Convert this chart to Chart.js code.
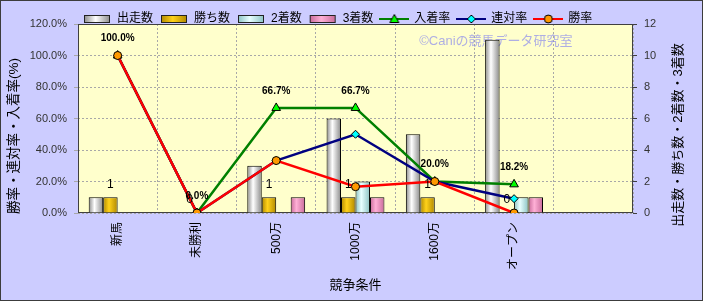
<!DOCTYPE html>
<html><head><meta charset="utf-8">
<script src="https://cdn.jsdelivr.net/npm/chart.js@4/dist/chart.umd.min.js"></script>
<style>html,body{margin:0;padding:0;background:#ccccff;}canvas{display:block;}</style>
</head><body>
<canvas id="c" width="703" height="301"></canvas>
<script>
// ---- data ----
const categories = ['新馬', '未勝利', '500万', '1000万', '1600万', 'オープン', ''];
const starts  = [1, 0, 3, 6, 5, 11, null];   // 出走数
const wins    = [1, 0, 1, 1, 1, 0, null];    // 勝ち数
const seconds = [0, 0, 0, 2, 0, 1, null];    // 2着数
const thirds  = [0, 0, 1, 1, 0, 1, null];    // 3着数
const placeRate    = [100, 0, 66.7, 66.7, 20, 18.2, null]; // 入着率
const quinellaRate = [100, 0, 33.3, 50, 20, 9.1, null];    // 連対率
const winRate      = [100, 0, 33.3, 16.7, 20, 0, null];    // 勝率
const leftTicks  = [0, 20, 40, 60, 80, 100, 120];
const rightTicks = [0, 2, 4, 6, 8, 10, 12];

// ---- styles ----
const FONT = "'Liberation Sans','Noto Sans CJK JP',sans-serif";
const CAT_PCT = 0.73;
const barStyles = [
  {edge: '#8a8a8a', mid: '#ffffff'},
  {edge: '#b08800', mid: '#ffd21a'},
  {edge: '#8ac2c2', mid: '#e8ffff'},
  {edge: '#c86a9a', mid: '#ffb0d6'}
];

function barFill(di) {
  return function (ctx) {
    const st = barStyles[di];
    if (ctx.type !== 'data') return st.mid;
    const chart = ctx.chart, xs = chart.scales.x;
    if (!xs || !xs.width) return st.mid;
    const catW = xs.width / categories.length;
    const groupW = catW * CAT_PCT;
    const barW = groupW / 4;
    const left = xs.getPixelForValue(ctx.dataIndex) - groupW / 2 + di * barW;
    const g = chart.ctx.createLinearGradient(left, 0, left + barW, 0);
    g.addColorStop(0, st.edge);
    g.addColorStop(0.4, st.mid);
    g.addColorStop(1, st.edge);
    return g;
  };
}

function barSwatch(di) {
  const st = barStyles[di];
  const cv = document.createElement('canvas');
  cv.width = 28; cv.height = 10;
  const c = cv.getContext('2d');
  const g = c.createLinearGradient(1, 0, 27, 0);
  g.addColorStop(0, st.edge); g.addColorStop(0.45, st.mid); g.addColorStop(1, st.edge);
  c.fillStyle = g; c.fillRect(1, 1.5, 26, 7);
  c.strokeStyle = '#222'; c.lineWidth = 1; c.strokeRect(1.5, 1.5, 25, 7);
  return cv;
}

function lineSwatch(color, marker, fill) {
  const cv = document.createElement('canvas');
  cv.width = 30; cv.height = 12;
  const c = cv.getContext('2d');
  c.strokeStyle = color; c.lineWidth = 2;
  c.beginPath(); c.moveTo(0, 6); c.lineTo(30, 6); c.stroke();
  c.fillStyle = fill; c.strokeStyle = '#000'; c.lineWidth = 1;
  c.beginPath();
  if (marker === 'triangle') { c.moveTo(15, 1.5); c.lineTo(19.5, 9.5); c.lineTo(10.5, 9.5); c.closePath(); }
  else if (marker === 'diamond') { c.moveTo(15, 2); c.lineTo(19, 6); c.lineTo(15, 10); c.lineTo(11, 6); c.closePath(); }
  else { c.arc(15, 6, 4, 0, Math.PI * 2); }
  c.fill(); c.stroke();
  return cv;
}

const swatches = [
  barSwatch(0), barSwatch(1), barSwatch(2), barSwatch(3),
  lineSwatch('#008000', 'triangle', '#00ff00'),
  lineSwatch('#000080', 'diamond', '#00ffff'),
  lineSwatch('#ff0000', 'circle', '#ff9900')
];

const deco = {
  id: 'deco',
  beforeDraw(chart) {
    const c = chart.ctx, a = chart.chartArea;
    c.save();
    c.fillStyle = '#ccccff'; c.fillRect(0, 0, chart.width, chart.height);
    c.fillStyle = '#ffffcc'; c.fillRect(a.left, a.top, a.right - a.left, a.bottom - a.top);
    c.strokeStyle = '#3c3c3c'; c.lineWidth = 1; c.strokeRect(0.5, 0.5, chart.width - 1, chart.height - 1);
    c.restore();
    chart.legend.left = a.left - 2;
    chart.legend.top = 6;
  },
  beforeDatasetsDraw(chart) {
    const c = chart.ctx, a = chart.chartArea;
    c.save();
    c.strokeStyle = '#404040'; c.lineWidth = 1;
    c.strokeRect(a.left + 0.5, a.top + 0.5, a.right - a.left - 1, a.bottom - a.top - 1);
    c.font = '13px ' + FONT; c.fillStyle = 'rgba(130,130,240,0.65)';
    c.textAlign = 'center'; c.textBaseline = 'middle';
    c.fillText('©Caniの競馬データ研究室', a.left + (a.right - a.left) * 0.753, a.top + 17);
    c.restore();
  },
  afterDatasetsDraw(chart) {
    const c = chart.ctx;
    c.save();
    c.fillStyle = '#000'; c.textAlign = 'center'; c.textBaseline = 'middle';
    c.font = 'bold 10px ' + FONT;
    const pm = chart.getDatasetMeta(4);
    placeRate.forEach((v, i) => {
      if (v === null) return;
      const p = pm.data[i];
      c.fillText(v.toFixed(1) + '%', p.x, p.y - 17);
    });
    c.font = '12px ' + FONT;
    const wm = chart.getDatasetMeta(1);
    wins.forEach((v, i) => {
      if (v === null) return;
      const b = wm.data[i];
      c.fillText(String(v), b.x, b.y - 13);
    });
    c.restore();
  },
  afterDraw(chart) {
    const c = chart.ctx;
    c.save();
    c.font = '13.5px ' + FONT; c.fillStyle = '#000';
    c.textAlign = 'center'; c.textBaseline = 'middle';
    c.translate(14, 136); c.rotate(-Math.PI / 2);
    c.fillText('勝率・連対率・入着率(%)', 0, 0);
    c.restore();
    c.save();
    c.font = '13px ' + FONT; c.fillStyle = '#000';
    c.textAlign = 'center'; c.textBaseline = 'middle';
    c.translate(678, 135); c.rotate(-Math.PI / 2);
    c.fillText('出走数・勝ち数・2着数・3着数', 0, 0);
    c.restore();
  }
};

const barCommon = {type: 'bar', yAxisID: 'y1', borderColor: '#000', borderWidth: 1,
  categoryPercentage: CAT_PCT, barPercentage: 1.0, order: 3};

new Chart(document.getElementById('c'), {
  type: 'bar',
  data: {
    labels: categories,
    datasets: [
      Object.assign({label: '出走数', data: starts, backgroundColor: barFill(0)}, barCommon),
      Object.assign({label: '勝ち数', data: wins, backgroundColor: barFill(1)}, barCommon),
      Object.assign({label: '2着数', data: seconds, backgroundColor: barFill(2)}, barCommon),
      Object.assign({label: '3着数', data: thirds, backgroundColor: barFill(3)}, barCommon),
      {type: 'line', label: '入着率', data: placeRate, yAxisID: 'y', borderColor: '#008000', borderWidth: 2.5,
        pointStyle: 'triangle', pointRadius: 5, pointBackgroundColor: '#00ff00', pointBorderColor: '#000', pointBorderWidth: 1, order: 2},
      {type: 'line', label: '連対率', data: quinellaRate, yAxisID: 'y', borderColor: '#000080', borderWidth: 2.5,
        pointStyle: 'rectRot', pointRadius: 4, pointBackgroundColor: '#00ffff', pointBorderColor: '#000', pointBorderWidth: 1, order: 1},
      {type: 'line', label: '勝率', data: winRate, yAxisID: 'y', borderColor: '#ff0000', borderWidth: 2.5,
        pointStyle: 'circle', pointRadius: 4, pointBackgroundColor: '#ff9900', pointBorderColor: '#000', pointBorderWidth: 1, order: 0}
    ]
  },
  options: {
    responsive: false, animation: false, devicePixelRatio: 1,
    layout: {padding: {top: -5, left: 0, right: 0, bottom: 0}},
    plugins: {
      tooltip: {enabled: false},
      legend: {
        position: 'top', align: 'start',
        labels: {
          usePointStyle: true, pointStyleWidth: 28, padding: 7, color: '#000',
          font: {size: 12, family: FONT},
          generateLabels: (chart) => chart.data.datasets.map((ds, i) => ({
            text: ds.label, pointStyle: swatches[i], datasetIndex: i, hidden: false,
            lineWidth: 0, strokeStyle: 'rgba(0,0,0,0)', fillStyle: 'rgba(0,0,0,0)', fontColor: '#000'
          }))
        }
      }
    },
    scales: {
      x: {
        offset: true,
        grid: {offset: true, color: '#a8a8a8', drawTicks: false},
        border: {display: false, dash: [2, 2]},
        ticks: {font: {size: 12, family: FONT}, color: '#000', padding: 9, maxRotation: 90, minRotation: 90, autoSkip: false},
        title: {display: true, text: '競争条件', font: {size: 13, family: FONT}, color: '#000', padding: {top: 0, bottom: 8}},
        afterFit: (s) => { s.height = 88; }
      },
      y: {
        position: 'left', min: 0, max: 120,
        afterBuildTicks: (s) => { s.ticks = leftTicks.map(v => ({value: v})); },
        ticks: {font: {size: 11, family: FONT}, color: '#333', padding: 7, callback: (v) => Number(v).toFixed(1) + '%'},
        grid: {color: '#a8a8a8', tickLength: 4},
        border: {display: false, dash: [2, 2]},
        afterFit: (s) => { s.width = 78; }
      },
      y1: {
        position: 'right', min: 0, max: 12,
        afterBuildTicks: (s) => { s.ticks = rightTicks.map(v => ({value: v})); },
        ticks: {font: {size: 11, family: FONT}, color: '#333', padding: 7},
        grid: {drawOnChartArea: false, color: '#404040', tickLength: 4},
        border: {display: false},
        afterFit: (s) => { s.width = 70; }
      }
    }
  },
  plugins: [deco]
});
</script>
</body></html>
